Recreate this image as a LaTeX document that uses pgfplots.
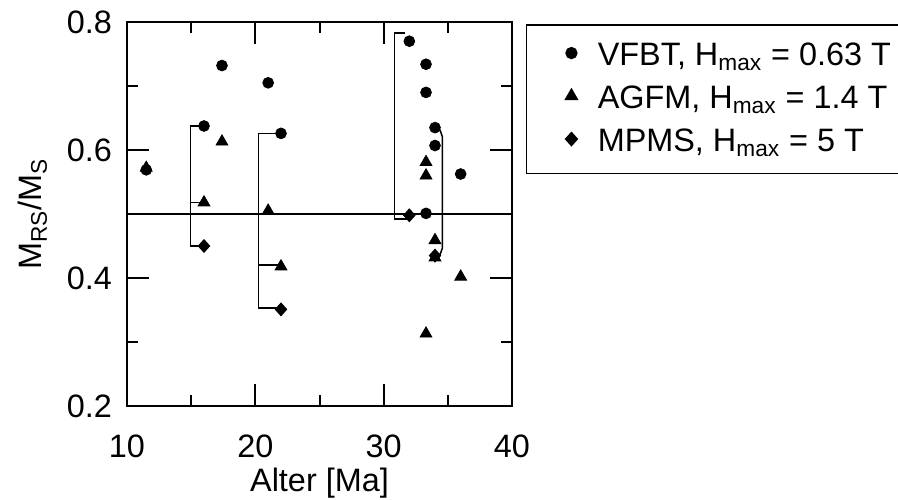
\documentclass[border=0pt]{standalone}
\usepackage{fontspec}
\setmainfont{Liberation Sans}
\usepackage{pgfplots}
\pgfplotsset{compat=1.18}
\newcommand\cf{\fontsize{16.2}{20}\selectfont}
\pgfplotsset{lg/.style={legend image code/.code={\path[draw=none] (0pt,0pt) -- (30.65pt,0pt); \draw[##1, only marks] plot coordinates {(17.5pt,1.5pt)};}}}
\begin{document}
\begin{tikzpicture}
\begin{axis}[
  scale only axis, width=192.5pt, height=192pt,
  xmin=10, xmax=40, ymin=0.2, ymax=0.8,
  xtick={10,20,30,40}, minor xtick={15,25,35},
  ytick={0.2,0.4,0.6,0.8}, minor ytick={0.3,0.5,0.7},
  major tick length=11pt, minor tick length=5.5pt,
  tick align=inside,
  axis line style={line width=1pt},
  major tick style={black, line width=1pt},
  minor tick style={black, line width=1pt},
  tick label style={font=\cf},
  label style={font=\cf},
  /pgf/number format/assume math mode=true,
  yticklabel style={/pgf/number format/fixed, /pgf/number format/fixed zerofill, /pgf/number format/precision=1, xshift=-4pt},
  xticklabel style={yshift=-11pt},
  ylabel style={xshift=0pt, yshift=3pt},
  xlabel style={yshift=2pt},
  xlabel={Alter [Ma]},
  ylabel={M\textsubscript{RS}/M\textsubscript{S}},
  legend style={at={(1.0356,0.9948)}, anchor=north west, draw=black, line width=0.75pt,
    font=\cf, inner xsep=5pt, inner ysep=7.15pt, row sep=4.5pt, column sep=0pt,
    nodes={inner sep=0pt, text height=13pt, text depth=4pt}},
  legend cell align=left,
]
\coordinate (BL) at (rel axis cs:0,0);
\addplot[black, line width=0.75pt, forget plot] coordinates {(10,0.5) (40,0.5)};
\addplot[black, line width=0.75pt, forget plot] coordinates {(16,0.6375) (14.96,0.6375) (14.96,0.450) (16,0.450)};
\addplot[black, line width=0.75pt, forget plot] coordinates {(14.96,0.518) (16,0.518)};
\addplot[black, line width=0.75pt, forget plot] coordinates {(22,0.626) (20.23,0.626) (20.23,0.353) (22,0.353)};
\addplot[black, line width=0.75pt, forget plot] coordinates {(20.23,0.420) (22,0.420)};
\addplot[black, line width=0.75pt, forget plot] coordinates {(31.7,0.783) (30.86,0.783) (30.86,0.492) (32,0.492)};
\addplot[black, line width=0.75pt, forget plot] coordinates {(34,0.634) (34.4,0.631) (34.58,0.62) (34.58,0.447) (34.4,0.437) (34,0.435)};
\addplot[only marks, mark=*, mark size=2.7pt, black, lg] coordinates {
(11.5,0.569) (16,0.6375) (17.4,0.732) (21,0.705) (22,0.626) (32,0.770) (33.3,0.734) (33.3,0.690) (34,0.635) (34,0.607) (36,0.5625) (33.3,0.501)};
\addlegendentry{VFBT, H\textsubscript{max} = 0.63 T}
\addplot[only marks, mark=triangle*, mark size=3.4pt, black, lg] coordinates {
(11.5,0.572) (16,0.518) (17.4,0.613) (21,0.505) (22,0.418) (33.3,0.581) (33.3,0.560) (34,0.459) (34,0.432) (36,0.402) (33.3,0.313)};
\addlegendentry{AGFM, H\textsubscript{max} = 1.4 T}
\addplot[only marks, mark=diamond*, mark size=3.2pt, mark options={xscale=1.2}, black, lg] coordinates {
(16,0.450) (22,0.351) (32,0.498) (34,0.435)};
\addlegendentry{MPMS, H\textsubscript{max} = 5 T}
\end{axis}
\pgfresetboundingbox
\useasboundingbox ([shift={(-63.5pt,-46.5pt)}]BL) rectangle ([shift={(385.5pt,203pt)}]BL);
\end{tikzpicture}
\end{document}
